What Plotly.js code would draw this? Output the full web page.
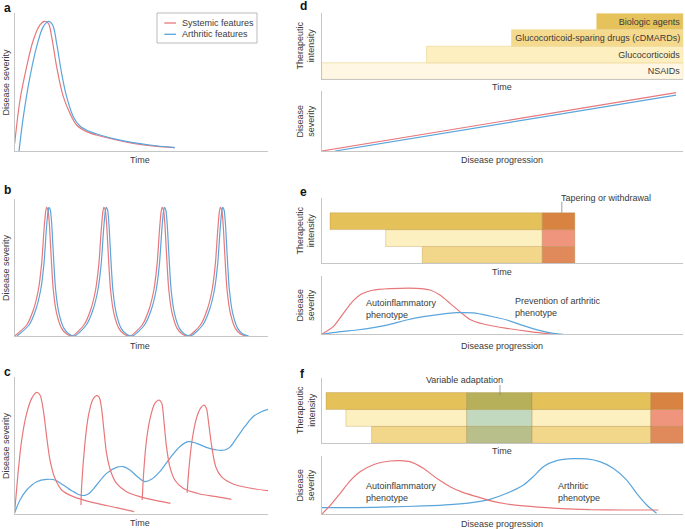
<!DOCTYPE html>
<html><head><meta charset="utf-8">
<script src="https://cdn.plot.ly/plotly-3.0.1.min.js"></script>
<style>html,body{margin:0;padding:0;background:#fff}#chart{width:685px;height:529px}</style>
</head><body><div id="chart"></div>
<script>
// ---------- DATA ----------
// Panel a (time units, severity units)
const aRedX  = [0,16,36,56,76,89,101,111,126,146,166,186,216,256,306,356,406,481];
const aRedY  = [23,153,253,333,378,389,383,343,253,163,113,78,58,45,33,23,16,10];
const aBlueX = [13,26,46,66,86,102,114,126,141,156,176,196,226,256,306,356,406,481];
const aBlueY = [0,103,223,313,373,389,378,323,233,163,103,75,58,48,35,25,18,10];
// Panel b
const bRedX  = [0,36,56,71,81,88,93,96,100,104,109,116,126,141,156,173,
                208,228,243,253,260,265,268,272,276,281,288,298,313,328,347,
                383,403,418,428,435,440,443,447,451,456,463,473,488,503,521,
                558,578,593,603,610,615,618,622,626,631,638,648,663,678,696];
const bBlueX = [7,43,63,78,88,95,100,103,107,111,116,123,133,148,163,180,
                215,235,250,260,267,272,275,279,283,288,295,305,320,335,354,
                390,410,425,435,442,447,450,454,458,463,470,480,495,510,528,
                565,585,600,610,617,622,625,629,633,638,645,655,670,685,703];
const bY     = [0,33,78,138,218,318,373,386,378,338,248,138,68,23,6,0,
                33,78,138,218,318,373,386,378,338,248,138,68,23,6,0,
                33,78,138,218,318,373,386,378,338,248,138,68,23,6,0,
                33,78,138,218,318,373,386,378,338,248,138,68,23,6,0];
// Panel c
const cRed1X = [0,11,21,36,51,66,76,86,96,106,121,141,176,236,306,359];
const cRed1Y = [7,132,222,302,347,365,357,312,232,162,107,72,52,34,19,7];
const cRed2X = [199,201,211,221,234,246,254,261,268,276,289,306,336,376,426,468];
const cRed2Y = [27,82,212,292,342,355,350,317,252,182,127,92,67,52,40,32];
const cRed3X = [383,388,396,408,421,434,442,448,456,466,481,506,556,606,651];
const cRed3Y = [42,132,222,292,332,342,332,282,202,142,102,77,60,52,44];
const cRed4X = [518,524,533,546,558,569,576,584,592,604,621,656,706,761];
const cRed4Y = [64,142,222,287,317,327,317,262,202,142,112,90,78,70];
const cBlueX = [0,16,36,66,96,121,146,171,196,211,226,246,276,306,326,346,371,391,411,436,466,496,521,546,576,606,631,646,666,691,716,741,761];
const cBlueY = [4,42,72,97,104,102,87,70,57,56,64,87,122,140,142,132,110,97,104,127,167,202,217,212,200,192,192,200,227,262,292,307,314];
// Panel d
const dDrugs = ['NSAIDs','Glucocorticoids','Glucocorticoid-sparing drugs (cDMARDs)','Biologic agents'];
const dRows  = [0,1,2,3];
const dStart = [0,29,52.5,76];
const dEnd   = [100,100,100,100];
const dRedX  = [0,98];   const dRedY  = [0,96.7];
const dBlueX = [3.7,98]; const dBlueY = [0,92.8];
// Panel e
const eRows = [0,1,2];
const eStart = [27.8,17.7,2.3];
const eTaperStart = [61,61,61];
const eTaperEnd = [70,70,70];
const eRedX  = [0,3.2,6.0,8.5,11.0,14.0,18.9,26.3,30.0,32.7,35.5,38.2,41.0,44.7,51.2,57.6,64.1];
const eRedY  = [0,13.1,36,56,69,75.5,78.3,78.9,76,67.4,53.1,38.9,25.5,17.7,10.3,4.6,0];
const eBlueX = [0,5.1,9.7,14.3,18.9,23.5,28.1,32.7,37.3,41.9,46.5,51.2,55.8,60.4,64.1,66.8];
const eBlueY = [0,4.6,7.4,11.4,17.1,24.6,30.3,34.3,37.1,36.6,31.4,24.6,14.9,6.3,1.7,0];
// Panel f
const fRows = [0,1,2];
const fStart = [13.8,6.7,1.2];
const fAdaptStart = [40.1,40.1,40.1];
const fAdaptEnd = [58.2,58.2,58.2];
const fTaperStart = [91,91,91];
const fTaperEnd = [100,100,100];
const fRedX  = [0,2.3,5.1,7.8,10.6,14.3,18.9,21.7,24.4,28.1,31.8,35.5,39.2,42.9,46.5,51.2,55.8,65.0,74.2,83.4,93.1];
const fRedY  = [0,15,36,57,73,85,91.4,92,90.3,78.9,61.7,47.4,37.1,30.3,23.4,17.7,14.3,10.3,8,7.4,7.4];
const fBlueX = [0,9.7,18.9,28.1,35.5,41.9,46.5,51.2,55.8,58.5,61.3,65.0,69.6,73.3,76.9,80.6,84.3,87.1,89.9,92.6];
const fBlueY = [11.4,11.4,12.6,14.3,16.6,20.6,25.7,36,50.3,64.6,81.7,92,95.4,94.9,90.3,78.9,58.9,36,16,1.7];

// ---------- STYLE ----------
const RED='#e8777a', BLUE='#5aa5dc', AX='#c6c6c6', TXT='#3a3a3a';
const FONT='Liberation Sans, Arial, sans-serif';
const W=685, H=529;
const px=v=>v/W, py=v=>1-v/H;
const mainCol=['#f2d68a','#fdf0c0','#e5c15a'];
const taperCol=['#e08a5c','#ef957e','#d98343'];
const adaptCol=['#b9bf8a','#c2d9bf','#b6b05a'];
const dCol=['#fff7e3','#fdefc0','#f5da8e','#e6c25c'];
const barLine={color:'rgba(160,125,40,0.35)',width:0.8};

function line(x,y,color,xa,ya,smooth){
  return {type:'scatter',mode:'lines',x:x,y:y,xaxis:xa,yaxis:ya,hoverinfo:'skip',showlegend:false,
    line:{color:color,width:1.2,shape:'spline',smoothing:smooth===undefined?1:smooth}};
}
function bars(rows,start,end,colors,xa,ya,text){
  const t={type:'bar',orientation:'h',y:rows,base:start,x:end.map((e,i)=>e-start[i]),width:1,
    xaxis:xa,yaxis:ya,hoverinfo:'skip',showlegend:false,marker:{color:colors,line:barLine}};
  if(text){t.text=text;t.textposition='inside';t.insidetextanchor='end';t.textangle=0;
    t.insidetextfont={size:9,color:TXT,family:FONT};t.constraintext='none';
    t.marker.line={color:'#efdca0',width:0.8};}
  return t;
}
const traces=[
  line(aRedX,aRedY,RED,'x','y'), line(aBlueX,aBlueY,BLUE,'x','y'),
  line(bRedX,bY,RED,'x2','y2',0.7), line(bBlueX,bY,BLUE,'x2','y2',0.7),
  line(cBlueX,cBlueY,BLUE,'x3','y3'),
  line(cRed1X,cRed1Y,RED,'x3','y3',0.8), line(cRed2X,cRed2Y,RED,'x3','y3',0.8),
  line(cRed3X,cRed3Y,RED,'x3','y3',0.8), line(cRed4X,cRed4Y,RED,'x3','y3',0.8),
  bars(dRows,dStart,dEnd,dCol,'x4','y4',dDrugs),
  line(dRedX,dRedY,RED,'x5','y5'), line(dBlueX,dBlueY,BLUE,'x5','y5'),
  bars(eRows,eStart,eTaperStart,mainCol,'x6','y6'),
  bars(eRows,eTaperStart,eTaperEnd,taperCol,'x6','y6'),
  line(eRedX,eRedY,RED,'x7','y7',0.6), line(eBlueX,eBlueY,BLUE,'x7','y7',0.8),
  bars(fRows,fStart,fAdaptStart,mainCol,'x8','y8'),
  bars(fRows,fAdaptStart,fAdaptEnd,adaptCol,'x8','y8'),
  bars(fRows,fAdaptEnd,fTaperStart,mainCol,'x8','y8'),
  bars(fRows,fTaperStart,fTaperEnd,taperCol,'x8','y8'),
  line(fBlueX,fBlueY,BLUE,'x9','y9',0.7), line(fRedX,fRedY,RED,'x9','y9',0.6)
];

function axis(d0,d1,anchor,range,isY){
  const dom=isY?[py(d1),py(d0)]:[px(d0),px(d1)];
  return {domain:dom,anchor:anchor,range:range,showline:true,linecolor:AX,linewidth:1,
    showgrid:false,zeroline:false,showticklabels:false,ticks:'',fixedrange:true};
}
const LX0=14.7, LX1=268, RX0=321.7, RX1=683.3;
const layout={width:W,height:H,margin:{l:0,r:0,t:0,b:0},paper_bgcolor:'#fff',plot_bgcolor:'rgba(0,0,0,0)',
  barmode:'overlay',showlegend:false,font:{family:FONT,color:TXT,size:9},
  xaxis: axis(LX0,LX1,'y',[0,761]),  yaxis: axis(13.3,151,'x',[0,413],true),
  xaxis2:axis(LX0,LX1,'y2',[0,761]), yaxis2:axis(199.3,336,'x2',[0,410],true),
  xaxis3:axis(LX0,LX1,'y3',[0,761]), yaxis3:axis(376.7,514,'x3',[0,412],true),
  xaxis4:axis(RX0,RX1,'y4',[0,100]), yaxis4:axis(13.3,79.3,'x4',[-0.5,3.5],true),
  xaxis5:axis(RX0,RX1,'y5',[0,100]), yaxis5:axis(90.7,151,'x5',[0,100],true),
  xaxis6:axis(RX0,RX1,'y6',[0,100]), yaxis6:axis(198.3,263.3,'x6',[-0.5,3.36],true),
  xaxis7:axis(RX0,RX1,'y7',[0,100]), yaxis7:axis(276,334.3,'x7',[0,100],true),
  xaxis8:axis(RX0,RX1,'y8',[0,100]), yaxis8:axis(378.3,443.3,'x8',[-0.5,3.34],true),
  xaxis9:axis(RX0,RX1,'y9',[0,100]), yaxis9:axis(456,514.3,'x9',[0,100],true),
  annotations:[], shapes:[]
};
const A=layout.annotations, S=layout.shapes;
function txt(x,y,t,o){A.push(Object.assign({xref:'paper',yref:'paper',x:px(x),y:py(y),text:t,showarrow:false,
  xanchor:'center',yanchor:'middle',font:{size:9,color:TXT,family:FONT}},o||{}));}
// panel letters
[['a',2,8],['b',2,190],['c',2,372],['d',298,6],['e',298,192],['f',298,374]].forEach(l=>
  txt(l[1],l[2],'<b>'+l[0]+'</b>',{xanchor:'left',font:{size:12,color:'#111',family:FONT}}));
// left column titles
[82,267.5,445.5].forEach(y=>txt(5.5,y,'Disease severity',{textangle:-90}));
[160,345.5,523].forEach(y=>txt(140,y,'Time'));
// right column titles
[46,231,410.5].forEach(y=>txt(305.5,y,'Therapeutic<br>intensity',{textangle:-90}));
[121,305,485].forEach(y=>txt(305.5,y,'Disease<br>severity',{textangle:-90}));
[87,271.7,450.7].forEach(y=>txt(502,y,'Time'));
[160,345.7,524.3].forEach(y=>txt(502,y,'Disease progression'));
// e / f notes
txt(364,309,'Autoinflammatory<br>phenotype',{xanchor:'left',align:'left'});
txt(513,307,'Prevention of arthritic<br>phenotype',{xanchor:'left',align:'left'});
txt(364,492,'Autoinflammatory<br>phenotype',{xanchor:'left',align:'left'});
txt(556,492,'Arthritic<br>phenotype',{xanchor:'left',align:'left'});
txt(559,198.3,'Tapering or withdrawal',{xanchor:'left'});
txt(464,380,'Variable adaptation');
S.push({type:'line',xref:'x6',yref:'y6',x0:66.4,x1:66.4,y0:2.5,y1:3.16,line:{color:'#888',width:0.8}});
S.push({type:'line',xref:'x8',yref:'y8',x0:49.3,x1:49.3,y0:2.34,y1:2.94,line:{color:'#888',width:0.8}});
// legend (panel a)
S.push({type:'rect',xref:'paper',yref:'paper',x0:px(157),x1:px(257),y0:py(43),y1:py(13),line:{color:'#aaa',width:0.8}});
S.push({type:'line',xref:'paper',yref:'paper',x0:px(164.3),x1:px(176),y0:py(23),y1:py(23),line:{color:RED,width:1.3}});
S.push({type:'line',xref:'paper',yref:'paper',x0:px(164.3),x1:px(176),y0:py(34.3),y1:py(34.3),line:{color:BLUE,width:1.3}});
txt(180,23,'Systemic features',{xanchor:'left'});
txt(180,34.3,'Arthritic features',{xanchor:'left'});

Plotly.newPlot('chart',traces,layout,{staticPlot:true,displayModeBar:false});
</script></body></html>
